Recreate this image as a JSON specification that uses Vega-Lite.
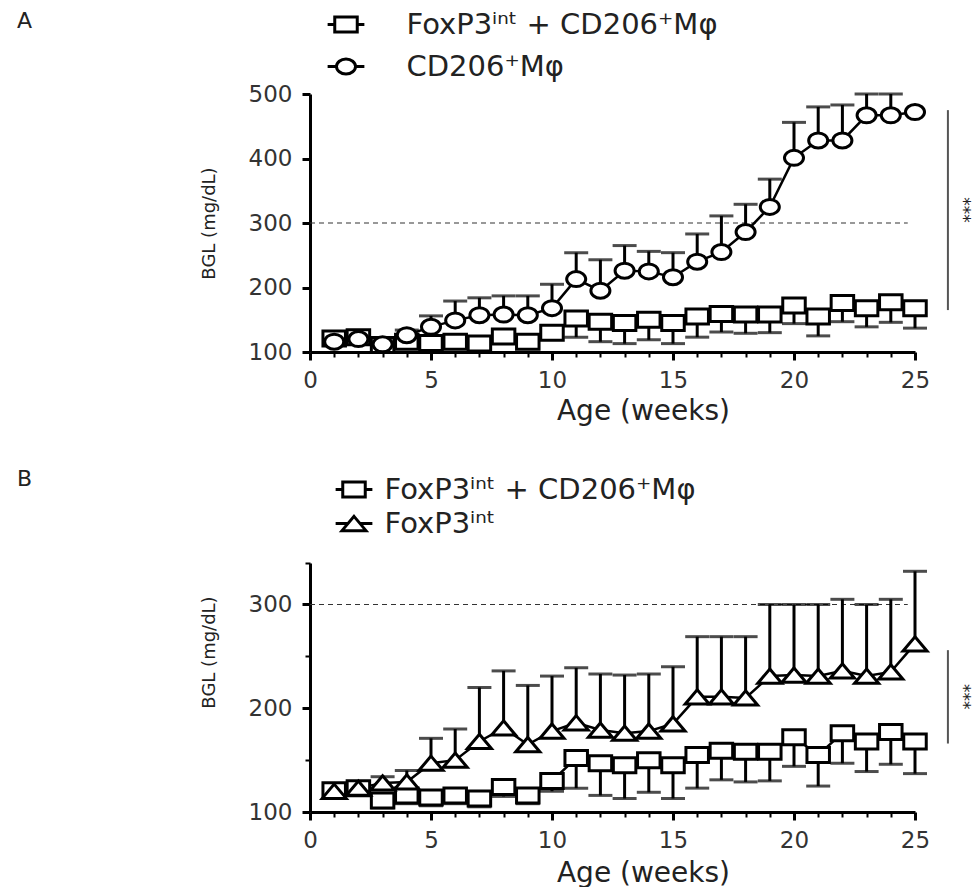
{
  "$schema": "https://vega.github.io/schema/vega-lite/v6.json",
  "padding": {"left": 16, "top": 10, "right": 0, "bottom": 0},
  "bounds": "flush",
  "spacing": 211,
  "config": {
    "view": {"stroke": null},
    "font": "DejaVu Sans",
    "axis": {
      "domainColor": "#000", "domainWidth": 3, "tickColor": "#000", "tickWidth": 3, "grid": false,
      "labelFont": "DejaVu Sans", "labelFontSize": 23, "labelColor": "#333",
      "titleFont": "DejaVu Sans", "titleFontWeight": "normal", "titleColor": "#222"
    }
  },
  "datasets": {
    "a": [
      {"week": 1, "group": "FoxP3ⁱⁿᵗ + CD206⁺Mφ", "mean": 121, "err": 114},
      {"week": 2, "group": "FoxP3ⁱⁿᵗ + CD206⁺Mφ", "mean": 123, "err": 116},
      {"week": 3, "group": "FoxP3ⁱⁿᵗ + CD206⁺Mφ", "mean": 111, "err": 104},
      {"week": 4, "group": "FoxP3ⁱⁿᵗ + CD206⁺Mφ", "mean": 116, "err": 108},
      {"week": 5, "group": "FoxP3ⁱⁿᵗ + CD206⁺Mφ", "mean": 114, "err": 106},
      {"week": 6, "group": "FoxP3ⁱⁿᵗ + CD206⁺Mφ", "mean": 116, "err": 108},
      {"week": 7, "group": "FoxP3ⁱⁿᵗ + CD206⁺Mφ", "mean": 113, "err": 105},
      {"week": 8, "group": "FoxP3ⁱⁿᵗ + CD206⁺Mφ", "mean": 124, "err": 115},
      {"week": 9, "group": "FoxP3ⁱⁿᵗ + CD206⁺Mφ", "mean": 116, "err": 108},
      {"week": 10, "group": "FoxP3ⁱⁿᵗ + CD206⁺Mφ", "mean": 130, "err": 120},
      {"week": 11, "group": "FoxP3ⁱⁿᵗ + CD206⁺Mφ", "mean": 152, "err": 123},
      {"week": 12, "group": "FoxP3ⁱⁿᵗ + CD206⁺Mφ", "mean": 147, "err": 116},
      {"week": 13, "group": "FoxP3ⁱⁿᵗ + CD206⁺Mφ", "mean": 145, "err": 113},
      {"week": 14, "group": "FoxP3ⁱⁿᵗ + CD206⁺Mφ", "mean": 150, "err": 119},
      {"week": 15, "group": "FoxP3ⁱⁿᵗ + CD206⁺Mφ", "mean": 145, "err": 113},
      {"week": 16, "group": "FoxP3ⁱⁿᵗ + CD206⁺Mφ", "mean": 155, "err": 123},
      {"week": 17, "group": "FoxP3ⁱⁿᵗ + CD206⁺Mφ", "mean": 159, "err": 131},
      {"week": 18, "group": "FoxP3ⁱⁿᵗ + CD206⁺Mφ", "mean": 158, "err": 129},
      {"week": 19, "group": "FoxP3ⁱⁿᵗ + CD206⁺Mφ", "mean": 158, "err": 130},
      {"week": 20, "group": "FoxP3ⁱⁿᵗ + CD206⁺Mφ", "mean": 172, "err": 144},
      {"week": 21, "group": "FoxP3ⁱⁿᵗ + CD206⁺Mφ", "mean": 155, "err": 125},
      {"week": 22, "group": "FoxP3ⁱⁿᵗ + CD206⁺Mφ", "mean": 176, "err": 147},
      {"week": 23, "group": "FoxP3ⁱⁿᵗ + CD206⁺Mφ", "mean": 168, "err": 139},
      {"week": 24, "group": "FoxP3ⁱⁿᵗ + CD206⁺Mφ", "mean": 177, "err": 146},
      {"week": 25, "group": "FoxP3ⁱⁿᵗ + CD206⁺Mφ", "mean": 168, "err": 137},
      {"week": 1, "group": "CD206⁺Mφ", "mean": 116, "err": 122},
      {"week": 2, "group": "CD206⁺Mφ", "mean": 120, "err": 126},
      {"week": 3, "group": "CD206⁺Mφ", "mean": 112, "err": 117},
      {"week": 4, "group": "CD206⁺Mφ", "mean": 126, "err": 134},
      {"week": 5, "group": "CD206⁺Mφ", "mean": 139, "err": 156},
      {"week": 6, "group": "CD206⁺Mφ", "mean": 149, "err": 179},
      {"week": 7, "group": "CD206⁺Mφ", "mean": 157, "err": 184},
      {"week": 8, "group": "CD206⁺Mφ", "mean": 158, "err": 187},
      {"week": 9, "group": "CD206⁺Mφ", "mean": 157, "err": 187},
      {"week": 10, "group": "CD206⁺Mφ", "mean": 168, "err": 205},
      {"week": 11, "group": "CD206⁺Mφ", "mean": 213, "err": 254},
      {"week": 12, "group": "CD206⁺Mφ", "mean": 195, "err": 243},
      {"week": 13, "group": "CD206⁺Mφ", "mean": 226, "err": 265},
      {"week": 14, "group": "CD206⁺Mφ", "mean": 225, "err": 256},
      {"week": 15, "group": "CD206⁺Mφ", "mean": 216, "err": 254},
      {"week": 16, "group": "CD206⁺Mφ", "mean": 240, "err": 283},
      {"week": 17, "group": "CD206⁺Mφ", "mean": 255, "err": 311},
      {"week": 18, "group": "CD206⁺Mφ", "mean": 286, "err": 329},
      {"week": 19, "group": "CD206⁺Mφ", "mean": 325, "err": 368},
      {"week": 20, "group": "CD206⁺Mφ", "mean": 401, "err": 456},
      {"week": 21, "group": "CD206⁺Mφ", "mean": 428, "err": 480},
      {"week": 22, "group": "CD206⁺Mφ", "mean": 428, "err": 483},
      {"week": 23, "group": "CD206⁺Mφ", "mean": 467, "err": 500},
      {"week": 24, "group": "CD206⁺Mφ", "mean": 467, "err": 500},
      {"week": 25, "group": "CD206⁺Mφ", "mean": 472, "err": 472}
    ],
    "b": [
      {"week": 1, "group": "FoxP3ⁱⁿᵗ + CD206⁺Mφ", "mean": 121, "err": 114},
      {"week": 2, "group": "FoxP3ⁱⁿᵗ + CD206⁺Mφ", "mean": 123, "err": 116},
      {"week": 3, "group": "FoxP3ⁱⁿᵗ + CD206⁺Mφ", "mean": 111, "err": 104},
      {"week": 4, "group": "FoxP3ⁱⁿᵗ + CD206⁺Mφ", "mean": 116, "err": 108},
      {"week": 5, "group": "FoxP3ⁱⁿᵗ + CD206⁺Mφ", "mean": 114, "err": 106},
      {"week": 6, "group": "FoxP3ⁱⁿᵗ + CD206⁺Mφ", "mean": 116, "err": 108},
      {"week": 7, "group": "FoxP3ⁱⁿᵗ + CD206⁺Mφ", "mean": 113, "err": 105},
      {"week": 8, "group": "FoxP3ⁱⁿᵗ + CD206⁺Mφ", "mean": 124, "err": 115},
      {"week": 9, "group": "FoxP3ⁱⁿᵗ + CD206⁺Mφ", "mean": 116, "err": 108},
      {"week": 10, "group": "FoxP3ⁱⁿᵗ + CD206⁺Mφ", "mean": 130, "err": 120},
      {"week": 11, "group": "FoxP3ⁱⁿᵗ + CD206⁺Mφ", "mean": 152, "err": 123},
      {"week": 12, "group": "FoxP3ⁱⁿᵗ + CD206⁺Mφ", "mean": 147, "err": 116},
      {"week": 13, "group": "FoxP3ⁱⁿᵗ + CD206⁺Mφ", "mean": 145, "err": 113},
      {"week": 14, "group": "FoxP3ⁱⁿᵗ + CD206⁺Mφ", "mean": 150, "err": 119},
      {"week": 15, "group": "FoxP3ⁱⁿᵗ + CD206⁺Mφ", "mean": 145, "err": 113},
      {"week": 16, "group": "FoxP3ⁱⁿᵗ + CD206⁺Mφ", "mean": 155, "err": 123},
      {"week": 17, "group": "FoxP3ⁱⁿᵗ + CD206⁺Mφ", "mean": 159, "err": 131},
      {"week": 18, "group": "FoxP3ⁱⁿᵗ + CD206⁺Mφ", "mean": 158, "err": 129},
      {"week": 19, "group": "FoxP3ⁱⁿᵗ + CD206⁺Mφ", "mean": 158, "err": 130},
      {"week": 20, "group": "FoxP3ⁱⁿᵗ + CD206⁺Mφ", "mean": 172, "err": 144},
      {"week": 21, "group": "FoxP3ⁱⁿᵗ + CD206⁺Mφ", "mean": 155, "err": 125},
      {"week": 22, "group": "FoxP3ⁱⁿᵗ + CD206⁺Mφ", "mean": 176, "err": 147},
      {"week": 23, "group": "FoxP3ⁱⁿᵗ + CD206⁺Mφ", "mean": 168, "err": 139},
      {"week": 24, "group": "FoxP3ⁱⁿᵗ + CD206⁺Mφ", "mean": 177, "err": 146},
      {"week": 25, "group": "FoxP3ⁱⁿᵗ + CD206⁺Mφ", "mean": 168, "err": 137},
      {"week": 1, "group": "FoxP3ⁱⁿᵗ", "mean": 120, "err": 124},
      {"week": 2, "group": "FoxP3ⁱⁿᵗ", "mean": 123, "err": 127},
      {"week": 3, "group": "FoxP3ⁱⁿᵗ", "mean": 128, "err": 134},
      {"week": 4, "group": "FoxP3ⁱⁿᵗ", "mean": 129, "err": 140},
      {"week": 5, "group": "FoxP3ⁱⁿᵗ", "mean": 147, "err": 171},
      {"week": 6, "group": "FoxP3ⁱⁿᵗ", "mean": 150, "err": 180},
      {"week": 7, "group": "FoxP3ⁱⁿᵗ", "mean": 168, "err": 220},
      {"week": 8, "group": "FoxP3ⁱⁿᵗ", "mean": 181, "err": 236},
      {"week": 9, "group": "FoxP3ⁱⁿᵗ", "mean": 165, "err": 222},
      {"week": 10, "group": "FoxP3ⁱⁿᵗ", "mean": 178, "err": 231},
      {"week": 11, "group": "FoxP3ⁱⁿᵗ", "mean": 186, "err": 239},
      {"week": 12, "group": "FoxP3ⁱⁿᵗ", "mean": 179, "err": 233},
      {"week": 13, "group": "FoxP3ⁱⁿᵗ", "mean": 176, "err": 232},
      {"week": 14, "group": "FoxP3ⁱⁿᵗ", "mean": 178, "err": 233},
      {"week": 15, "group": "FoxP3ⁱⁿᵗ", "mean": 185, "err": 240},
      {"week": 16, "group": "FoxP3ⁱⁿᵗ", "mean": 211, "err": 269},
      {"week": 17, "group": "FoxP3ⁱⁿᵗ", "mean": 211, "err": 269},
      {"week": 18, "group": "FoxP3ⁱⁿᵗ", "mean": 210, "err": 269},
      {"week": 19, "group": "FoxP3ⁱⁿᵗ", "mean": 231, "err": 300},
      {"week": 20, "group": "FoxP3ⁱⁿᵗ", "mean": 232, "err": 300},
      {"week": 21, "group": "FoxP3ⁱⁿᵗ", "mean": 231, "err": 300},
      {"week": 22, "group": "FoxP3ⁱⁿᵗ", "mean": 236, "err": 305},
      {"week": 23, "group": "FoxP3ⁱⁿᵗ", "mean": 231, "err": 300},
      {"week": 24, "group": "FoxP3ⁱⁿᵗ", "mean": 235, "err": 305},
      {"week": 25, "group": "FoxP3ⁱⁿᵗ", "mean": 262, "err": 332}
    ]
  },
  "vconcat": [
    {
      "width": 605,
      "height": 258,
      "data": {"name": "a"},
      "encoding": {
        "x": {
          "field": "week", "type": "quantitative",
          "scale": {"domain": [0, 25], "nice": false, "zero": false},
          "axis": {
            "values": [0,1,2,3,4,5,6,7,8,9,10,11,12,13,14,15,16,17,18,19,20,21,22,23,24,25],
            "labelExpr": "datum.value % 5 === 0 ? datum.label : ''",
            "tickSize": {"condition": {"test": "datum.value % 5 === 0", "value": 8}, "value": 5},
            "tickWidth": {"condition": {"test": "datum.value % 5 === 0", "value": 3}, "value": 2},
            "labelPadding": 9, "labelFlush": false, "labelOverlap": false,
            "title": "Age (weeks)", "titleFontSize": 28, "titleX": 333, "titleY": 59,
            "titleAlign": "center", "titleBaseline": "middle"
          }
        },
        "y": {
          "field": "mean", "type": "quantitative",
          "scale": {"domain": [100, 500], "nice": false, "zero": false},
          "axis": {
            "values": [100, 200, 300, 400, 500], "tickSize": 8, "labelPadding": 10,
            "title": "BGL (mg/dL)", "titleFontSize": 18, "titleX": -101, "titleY": 129,
            "titleAlign": "center", "titleBaseline": "middle", "titleAngle": -90
          }
        }
      },
      "layer": [
        {
          "transform": [{"filter": "datum.week === 25 && datum.err < datum.mean"}],
          "mark": {"type": "rule", "strokeDash": [5, 4], "color": "#333", "strokeWidth": 1.2},
          "encoding": {
            "x": {"datum": 0, "type": "quantitative"},
            "x2": {"datum": 24.7},
            "y": {"datum": 300, "type": "quantitative"}
          }
        },
        {
          "mark": {"type": "rule", "strokeWidth": 3, "color": "#000"},
          "encoding": {"y2": {"field": "err"}}
        },
        {
          "transform": [{"filter": "datum.err != datum.mean"}],
          "mark": {"type": "tick", "orient": "horizontal", "size": 24, "thickness": 3, "color": "#000"},
          "encoding": {"y": {"field": "err", "type": "quantitative", "title": "BGL (mg/dL)"}}
        },
        {
          "mark": {"type": "line", "strokeWidth": 2.5, "color": "#000"},
          "encoding": {"detail": {"field": "group"}}
        },
        {
          "mark": {"type": "point", "filled": true, "fill": "#fff", "stroke": "#000", "strokeWidth": 3, "size": 225, "opacity": 1},
          "encoding": {
            "shape": {
              "field": "group", "type": "nominal",
              "scale": {
                "domain": ["FoxP3ⁱⁿᵗ + CD206⁺Mφ", "CD206⁺Mφ"],
                "range": [
                  "M-1.5,-1H1.5V1H-1.5Z",
                  "M1.27,0C1.27,0.55 0.7,1 0,1C-0.7,1 -1.27,0.55 -1.27,0C-1.27,-0.55 -0.7,-1 0,-1C0.7,-1 1.27,-0.55 1.27,0Z"
                ]
              },
              "legend": null
            }
          }
        },
        {
          "transform": [{"filter": "datum.week > 100"}],
          "mark": {"type": "point", "filled": false, "color": "#000", "strokeWidth": 3, "size": 225, "opacity": 1},
          "encoding": {
            "shape": {
              "field": "group", "type": "nominal",
              "scale": {
                "domain": ["FoxP3ⁱⁿᵗ + CD206⁺Mφ", "CD206⁺Mφ"],
                "range": [
                  "M-2.45,0H-1.5M1.5,0H2.45M-1.5,-1H1.5V1H-1.5Z",
                  "M-2.45,0H-1.27M1.27,0H2.45M1.27,0C1.27,0.55 0.7,1 0,1C-0.7,1 -1.27,0.55 -1.27,0C-1.27,-0.55 -0.7,-1 0,-1C0.7,-1 1.27,-0.55 1.27,0Z"
                ]
              },
              "legend": {
                "orient": "none", "legendX": 21.5, "legendY": -84, "title": null, "padding": 0,
                "labelFont": "DejaVu Sans", "labelFontSize": 29, "labelColor": "#222", "labelLimit": 1000,
                "labelOffset": 46, "rowPadding": 12, "symbolSize": 225, "symbolStrokeWidth": 3,
                "symbolStrokeColor": "#000", "symbolOpacity": 1,
                "encode": {"symbols": {"update": {"stroke": {"value": "#000"}, "fill": {"value": "#fff"}, "strokeWidth": {"value": 3}, "opacity": {"value": 1}}}}
              }
            }
          }
        },
        {
          "transform": [{"filter": "datum.week === 25 && datum.err < datum.mean"}],
          "mark": {"type": "rule", "strokeWidth": 2, "color": "#555"},
          "encoding": {
            "x": {"datum": 26.36, "type": "quantitative"},
            "y": {"datum": 165, "type": "quantitative"},
            "y2": {"datum": 475}
          }
        },
        {
          "transform": [{"filter": "datum.week === 25 && datum.err < datum.mean"}],
          "mark": {"type": "text", "text": "***", "angle": 90, "fontSize": 17, "color": "#222", "align": "center", "baseline": "middle"},
          "encoding": {
            "x": {"datum": 27.0, "type": "quantitative"},
            "y": {"datum": 320, "type": "quantitative"}
          }
        },
        {
          "transform": [{"filter": "datum.week === 25 && datum.err < datum.mean"}],
          "mark": {"type": "text", "text": "A", "fontSize": 22, "color": "#222", "align": "center", "baseline": "middle"},
          "encoding": {
            "x": {"datum": -11.8, "type": "quantitative"},
            "y": {"datum": 613, "type": "quantitative"}
          }
        }
      ],
      "resolve": {"scale": {"shape": "independent"}}
    },
    {
      "width": 605,
      "height": 249,
      "data": {"name": "b"},
      "encoding": {
        "x": {
          "field": "week", "type": "quantitative",
          "scale": {"domain": [0, 25], "nice": false, "zero": false},
          "axis": {
            "values": [0,1,2,3,4,5,6,7,8,9,10,11,12,13,14,15,16,17,18,19,20,21,22,23,24,25],
            "labelExpr": "datum.value % 5 === 0 ? datum.label : ''",
            "tickSize": {"condition": {"test": "datum.value % 5 === 0", "value": 8}, "value": 5},
            "tickWidth": {"condition": {"test": "datum.value % 5 === 0", "value": 3}, "value": 2},
            "labelPadding": 9, "labelFlush": false, "labelOverlap": false,
            "title": "Age (weeks)", "titleFontSize": 28, "titleX": 333, "titleY": 61,
            "titleAlign": "center", "titleBaseline": "middle"
          }
        },
        "y": {
          "field": "mean", "type": "quantitative",
          "scale": {"domain": [100, 340], "nice": false, "zero": false},
          "axis": {
            "values": [100, 150, 200, 250, 300, 340],
            "labelExpr": "datum.value % 100 === 0 ? datum.label : ''",
            "tickSize": {"condition": {"test": "datum.value % 100 === 0", "value": 8}, "value": 5},
            "tickWidth": {"condition": {"test": "datum.value % 100 === 0", "value": 3}, "value": 2},
            "labelPadding": 10, "labelOverlap": false,
            "title": "BGL (mg/dL)", "titleFontSize": 18, "titleX": -101, "titleY": 89,
            "titleAlign": "center", "titleBaseline": "middle", "titleAngle": -90
          }
        }
      },
      "layer": [
        {
          "transform": [{"filter": "datum.week === 25 && datum.err < datum.mean"}],
          "mark": {"type": "rule", "strokeDash": [5, 4], "color": "#333", "strokeWidth": 1.2},
          "encoding": {
            "x": {"datum": 0, "type": "quantitative"},
            "x2": {"datum": 24.7},
            "y": {"datum": 300, "type": "quantitative"}
          }
        },
        {
          "mark": {"type": "rule", "strokeWidth": 3, "color": "#000"},
          "encoding": {"y2": {"field": "err"}}
        },
        {
          "transform": [{"filter": "datum.err != datum.mean"}],
          "mark": {"type": "tick", "orient": "horizontal", "size": 24, "thickness": 3, "color": "#000"},
          "encoding": {"y": {"field": "err", "type": "quantitative", "title": "BGL (mg/dL)"}}
        },
        {
          "mark": {"type": "line", "strokeWidth": 2.5, "color": "#000"},
          "encoding": {"detail": {"field": "group"}}
        },
        {
          "mark": {"type": "point", "filled": true, "fill": "#fff", "stroke": "#000", "strokeWidth": 3, "size": 225, "opacity": 1},
          "encoding": {
            "shape": {
              "field": "group", "type": "nominal",
              "scale": {
                "domain": ["FoxP3ⁱⁿᵗ + CD206⁺Mφ", "FoxP3ⁱⁿᵗ"],
                "range": ["M-1.5,-1H1.5V1H-1.5Z", "M0,-0.95L1.6,0.95H-1.6Z"]
              },
              "legend": null
            }
          }
        },
        {
          "transform": [{"filter": "datum.week > 100"}],
          "mark": {"type": "point", "filled": false, "color": "#000", "strokeWidth": 3, "size": 225, "opacity": 1},
          "encoding": {
            "shape": {
              "field": "group", "type": "nominal",
              "scale": {
                "domain": ["FoxP3ⁱⁿᵗ + CD206⁺Mφ", "FoxP3ⁱⁿᵗ"],
                "range": [
                  "M-2.45,0H-1.5M1.5,0H2.45M-1.5,-1H1.5V1H-1.5Z",
                  "M-2.45,0H-0.8M0.8,0H2.45M0,-0.95L1.6,0.95H-1.6Z"
                ]
              },
              "legend": {
                "orient": "none", "legendX": 29.5, "legendY": -88, "title": null, "padding": 0,
                "labelFont": "DejaVu Sans", "labelFontSize": 29, "labelColor": "#222", "labelLimit": 1000,
                "labelOffset": 16, "rowPadding": 4, "symbolSize": 225, "symbolStrokeWidth": 3,
                "symbolStrokeColor": "#000", "symbolOpacity": 1,
                "encode": {"symbols": {"update": {"stroke": {"value": "#000"}, "fill": {"value": "#fff"}, "strokeWidth": {"value": 3}, "opacity": {"value": 1}}}}
              }
            }
          }
        },
        {
          "transform": [{"filter": "datum.week === 25 && datum.err < datum.mean"}],
          "mark": {"type": "rule", "strokeWidth": 2, "color": "#555"},
          "encoding": {
            "x": {"datum": 26.36, "type": "quantitative"},
            "y": {"datum": 166, "type": "quantitative"},
            "y2": {"datum": 256}
          }
        },
        {
          "transform": [{"filter": "datum.week === 25 && datum.err < datum.mean"}],
          "mark": {"type": "text", "text": "***", "angle": 90, "fontSize": 17, "color": "#222", "align": "center", "baseline": "middle"},
          "encoding": {
            "x": {"datum": 27.0, "type": "quantitative"},
            "y": {"datum": 211, "type": "quantitative"}
          }
        },
        {
          "transform": [{"filter": "datum.week === 25 && datum.err < datum.mean"}],
          "mark": {"type": "text", "text": "B", "fontSize": 22, "color": "#222", "align": "center", "baseline": "middle"},
          "encoding": {
            "x": {"datum": -11.8, "type": "quantitative"},
            "y": {"datum": 421, "type": "quantitative"}
          }
        }
      ],
      "resolve": {"scale": {"shape": "independent"}}
    }
  ]
}
